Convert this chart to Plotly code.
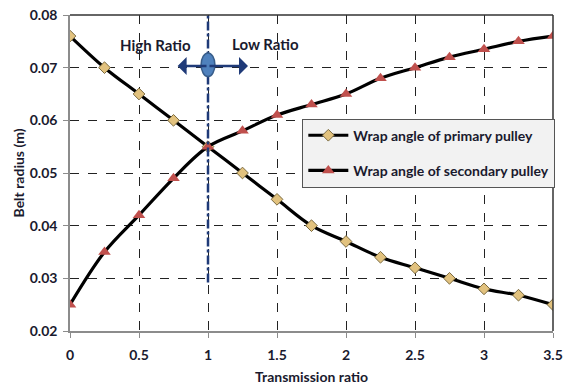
import plotly.graph_objects as go

ratio = [0, 0.25, 0.5, 0.75, 1.0, 1.25, 1.5, 1.75, 2.0, 2.25, 2.5, 2.75, 3.0, 3.25, 3.5]
primary = [0.076, 0.070, 0.065, 0.060, 0.055, 0.050, 0.045, 0.040, 0.037, 0.034, 0.032, 0.030, 0.028, 0.0268, 0.025]
secondary = [0.025, 0.035, 0.042, 0.049, 0.055, 0.058, 0.061, 0.063, 0.065, 0.068, 0.070, 0.072, 0.0735, 0.075, 0.076]
x_ticks = [0, 0.5, 1, 1.5, 2, 2.5, 3, 3.5]
y_ticks = [0.02, 0.03, 0.04, 0.05, 0.06, 0.07, 0.08]

FONT = "Lato"
TXT = "#1a1a2e"
NAVY = "#1F3A78"

fig = go.Figure()
fig.add_trace(go.Scatter(
    x=ratio, y=primary, mode="lines+markers", name="Wrap angle of primary pulley",
    legendgroup="a",
    line=dict(color="black", width=3.2, shape="spline"),
    marker=dict(symbol="diamond", size=9, color="#E2C27E", line=dict(color="#7a6a40", width=1)),
))
fig.add_trace(go.Scatter(
    x=ratio, y=secondary, mode="lines+markers", name="Wrap angle of secondary pulley",
    legendgroup="b",
    line=dict(color="black", width=3.2, shape="spline"),
    marker=dict(symbol="triangle-up", size=11, color="#C0504D", line=dict(width=0)),
))

# vertical dash-dot divider at ratio 1
fig.add_shape(type="line", x0=1, x1=1, y0=0.0292, y1=0.08, xref="x", yref="y",
              line=dict(color=NAVY, width=2.5, dash="dashdot"))
# arrows
fig.add_annotation(x=0.78, y=0.0703, ax=1.0, ay=0.0703, xref="x", yref="y", axref="x", ayref="y",
                   showarrow=True, arrowhead=1, arrowsize=1.2, arrowwidth=2.5, arrowcolor=NAVY, text="")
fig.add_annotation(x=1.29, y=0.0703, ax=1.0, ay=0.0703, xref="x", yref="y", axref="x", ayref="y",
                   showarrow=True, arrowhead=1, arrowsize=1.2, arrowwidth=2.5, arrowcolor=NAVY, text="")
# ellipse
fig.add_shape(type="circle", x0=0.95, x1=1.05, y0=0.0683, y1=0.0728, xref="x", yref="y",
              fillcolor="#4F81BD", line=dict(color="#385D8A", width=1.5))
fig.add_annotation(x=0.62, y=0.0743, xref="x", yref="y", text="<b>High Ratio</b>", showarrow=False,
                   font=dict(family=FONT, size=15, color=TXT))
fig.add_annotation(x=1.42, y=0.0745, xref="x", yref="y", text="<b>Low Ratio</b>", showarrow=False,
                   font=dict(family=FONT, size=15, color=TXT))

# top and right frame
fig.add_shape(type="line", xref="paper", yref="paper", x0=0, x1=1, y0=1, y1=1,
              line=dict(color="#333333", width=1.5))
fig.add_shape(type="line", xref="paper", yref="paper", x0=1, x1=1, y0=0, y1=1,
              line=dict(color="#333333", width=1.5))

fig.update_layout(
    width=567, height=391,
    margin=dict(l=70, r=13, t=15, b=60),
    paper_bgcolor="white", plot_bgcolor="white",
    font=dict(family=FONT, color=TXT),
    legend=dict(x=0.48, y=0.672, xanchor="left", yanchor="top",
                bgcolor="#F2F2F2", bordercolor="#555555", borderwidth=1,
                font=dict(family=FONT, size=14, color=TXT, weight="bold"), tracegroupgap=14,
                itemwidth=40),
    xaxis=dict(range=[0, 3.5], tickvals=x_ticks, ticktext=[f"{v:g}" for v in x_ticks],
               automargin=False,
               showgrid=True, gridcolor="#222222", griddash="dash", gridwidth=1,
               showline=True, linecolor="#8c8c8c", linewidth=1.5,
               ticks="outside", tickcolor="#8c8c8c", ticklen=5, ticklabelstandoff=5,
               tickfont=dict(family=FONT, size=14, color=TXT, weight="bold"), zeroline=False,
               title=dict(text="<b>Transmission ratio</b>", font=dict(family=FONT, size=14, color=TXT), standoff=11)),
    yaxis=dict(range=[0.02, 0.08], tickvals=y_ticks, ticktext=[f"{v:.2f}" for v in y_ticks],
               automargin=False,
               showgrid=True, gridcolor="#222222", griddash="dash", gridwidth=1,
               showline=True, linecolor="#8c8c8c", linewidth=1.5,
               ticks="outside", tickcolor="#8c8c8c", ticklen=5, ticklabelstandoff=3,
               tickfont=dict(family=FONT, size=14, color=TXT, weight="bold"), zeroline=False,
               title=dict(text="<b>Belt radius (m)</b>", font=dict(family=FONT, size=14, color=TXT), standoff=2)),
)

fig.write_html("out.html")
